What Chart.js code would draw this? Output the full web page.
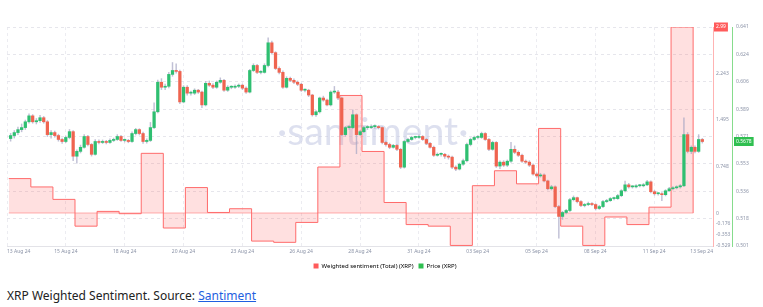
<!DOCTYPE html>
<html>
<head>
<meta charset="utf-8">
<script src="https://cdn.jsdelivr.net/npm/chart.js@4.4.1/dist/chart.umd.min.js"></script>
<style>
  html, body { margin: 0; padding: 0; background: #fff; }
  body { width: 763px; height: 307px; overflow: hidden; position: relative; font-family: "Noto Sans", sans-serif; }
  #wrap { position: absolute; left: 0; top: 0; width: 763px; height: 279px; }
  #caption { position: absolute; left: 7px; top: 287px; font-size: 12px; color: #222; white-space: nowrap; }
  #caption a { color: #1f5fe0; }
</style>
</head>
<body>
<div id="wrap"><canvas id="chart"></canvas></div>
<div id="caption">XRP Weighted Sentiment. Source: <a href="#">Santiment</a></div>
<script>
// x axis: days since 13 Aug 24 00:00
const xTickDays = [-0.08, 2.585, 5.25, 7.915, 10.58, 13.245, 15.91, 18.575, 21.24, 23.905, 26.57, 29.235, 31.9]
const xTickLabels = ['13 Aug 24', '15 Aug 24', '18 Aug 24', '20 Aug 24', '23 Aug 24', '26 Aug 24', '28 Aug 24',
  '31 Aug 24', '03 Sep 24', '05 Sep 24', '08 Sep 24', '11 Sep 24', '13 Sep 24']

// daily weighted sentiment, 13 Aug .. 12 Sep
const sentiment = [0.554, 0.42, 0.22, -0.21, 0.027, -0.01, 0.96, -0.24, 0.41, 0.01, 0.07, -0.45, -0.47, -0.15,
  0.74, 1.89, 0.99, 0.17, -0.185, -0.21, -0.52, 0.44, 0.68, 0.47, 1.36, -0.21, -0.52, -0.063, -0.185, 0.095, 2.99]
const sentimentTicks = [-0.529, -0.353, -0.176, 0, 0.748, 1.495, 2.243, 2.99]

// XRP 4h candles (open = previous close)
const priceTicks = [0.501, 0.5185, 0.536, 0.5535, 0.571, 0.5885, 0.606, 0.6235, 0.641]
const firstOpen = 0.5697
const closes = [
  0.5716, 0.5735, 0.5754, 0.5767, 0.5804, 0.5842,
  0.5804, 0.5811, 0.5830, 0.5804, 0.5722, 0.5735,
  0.5716, 0.5691, 0.5678, 0.5704, 0.5741, 0.5584,
  0.5615, 0.5641, 0.5710, 0.5659, 0.5596, 0.5678,
  0.5672, 0.5678, 0.5672, 0.5685, 0.5691, 0.5710,
  0.5685, 0.5685, 0.5678, 0.5729, 0.5754, 0.5729,
  0.5678, 0.5685, 0.5767, 0.5868, 0.6057, 0.6025,
  0.6031, 0.6107, 0.6132, 0.6126, 0.5931, 0.6025,
  0.5987, 0.5987, 0.6006, 0.5994, 0.5912, 0.6050,
  0.6038, 0.6025, 0.6057, 0.6069, 0.6006, 0.6025,
  0.6025, 0.6031, 0.6038, 0.6019, 0.5994, 0.6132,
  0.6164, 0.6120, 0.6120, 0.6164, 0.6309, 0.6246,
  0.6145, 0.6120, 0.6025, 0.6082, 0.6069, 0.6057,
  0.6044, 0.6006, 0.6006, 0.5975, 0.5849, 0.5868,
  0.5956, 0.5943, 0.5912, 0.5994, 0.5994, 0.5956,
  0.5722, 0.5767, 0.5767, 0.5849, 0.5722, 0.5741,
  0.5767, 0.5767, 0.5773, 0.5773, 0.5767, 0.5672,
  0.5659, 0.5641, 0.5653, 0.5628, 0.5514, 0.5678,
  0.5691, 0.5704, 0.5704, 0.5710, 0.5691, 0.5666,
  0.5641, 0.5590, 0.5596, 0.5596, 0.5584, 0.5578,
  0.5514, 0.5502, 0.5533, 0.5555, 0.5659, 0.5691,
  0.5704, 0.5704, 0.5729, 0.5691, 0.5628, 0.5672,
  0.5521, 0.5546, 0.5527, 0.5552, 0.5628, 0.5609,
  0.5590, 0.5552, 0.5546, 0.5527, 0.5470, 0.5458,
  0.5464, 0.5426, 0.5376, 0.5388, 0.5262, 0.5199,
  0.5224, 0.5237, 0.5306, 0.5319, 0.5294, 0.5269,
  0.5275, 0.5281, 0.5275, 0.5250, 0.5262, 0.5294,
  0.5300, 0.5313, 0.5313, 0.5332, 0.5363, 0.5401,
  0.5388, 0.5388, 0.5395, 0.5395, 0.5401, 0.5420,
  0.5357, 0.5344, 0.5344, 0.5338, 0.5363, 0.5376,
  0.5382, 0.5388, 0.5395, 0.5722, 0.5615, 0.5641,
  0.5615, 0.5691, 0.5678
]
const highs = [
  0.5730, 0.5748, 0.5770, 0.5790, 0.5815, 0.5855,
  0.5850, 0.5825, 0.5845, 0.5838, 0.5812, 0.5748,
  0.5745, 0.5725, 0.5700, 0.5712, 0.5755, 0.5748,
  0.5625, 0.5655, 0.5722, 0.5718, 0.5665, 0.5690,
  0.5688, 0.5688, 0.5685, 0.5695, 0.5700, 0.5722,
  0.5718, 0.5695, 0.5692, 0.5740, 0.5762, 0.5760,
  0.5738, 0.5695, 0.5800, 0.5925, 0.6070, 0.6080,
  0.6045, 0.6120, 0.6183, 0.6175, 0.6135, 0.6035,
  0.6035, 0.6000, 0.6015, 0.6012, 0.6000, 0.6062,
  0.6065, 0.6048, 0.6065, 0.6085, 0.6075, 0.6035,
  0.6035, 0.6040, 0.6046, 0.6045, 0.6028, 0.6140,
  0.6175, 0.6172, 0.6132, 0.6175, 0.6340, 0.6320,
  0.6252, 0.6155, 0.6130, 0.6092, 0.6090, 0.6078,
  0.6065, 0.6050, 0.6015, 0.6012, 0.5980, 0.5875,
  0.5962, 0.5968, 0.5950, 0.6002, 0.6030, 0.6005,
  0.5962, 0.5775, 0.5780, 0.5880, 0.5855, 0.5750,
  0.5775, 0.5780, 0.5785, 0.5785, 0.5780, 0.5772,
  0.5680, 0.5668, 0.5660, 0.5660, 0.5635, 0.5685,
  0.5698, 0.5712, 0.5712, 0.5720, 0.5716, 0.5697,
  0.5672, 0.5648, 0.5605, 0.5606, 0.5602, 0.5592,
  0.5585, 0.5522, 0.5540, 0.5565, 0.5668, 0.5700,
  0.5712, 0.5716, 0.5738, 0.5735, 0.5698, 0.5680,
  0.5678, 0.5555, 0.5555, 0.5560, 0.5672, 0.5650,
  0.5618, 0.5598, 0.5560, 0.5555, 0.5535, 0.5478,
  0.5475, 0.5472, 0.5432, 0.5398, 0.5395, 0.5270,
  0.5232, 0.5245, 0.5315, 0.5330, 0.5322, 0.5300,
  0.5282, 0.5290, 0.5288, 0.5280, 0.5270, 0.5302,
  0.5308, 0.5320, 0.5322, 0.5340, 0.5370, 0.5425,
  0.5410, 0.5396, 0.5402, 0.5405, 0.5410, 0.5430,
  0.5426, 0.5365, 0.5352, 0.5352, 0.5370, 0.5385,
  0.5390, 0.5395, 0.5402, 0.5830, 0.5735, 0.5650,
  0.5650, 0.5722, 0.5698
]
const lows = [
  0.5680, 0.5700, 0.5722, 0.5740, 0.5755, 0.5795,
  0.5795, 0.5790, 0.5800, 0.5795, 0.5710, 0.5700,
  0.5705, 0.5680, 0.5665, 0.5670, 0.5695, 0.5555,
  0.5540, 0.5605, 0.5635, 0.5650, 0.5585, 0.5590,
  0.5662, 0.5665, 0.5662, 0.5665, 0.5678, 0.5685,
  0.5678, 0.5675, 0.5670, 0.5672, 0.5720, 0.5720,
  0.5665, 0.5668, 0.5678, 0.5760, 0.5860, 0.6010,
  0.6010, 0.6020, 0.6095, 0.6115, 0.5920, 0.5925,
  0.5975, 0.5975, 0.5978, 0.5985, 0.5895, 0.5905,
  0.6030, 0.6015, 0.6018, 0.6050, 0.5998, 0.5998,
  0.6015, 0.6018, 0.6022, 0.6010, 0.5985, 0.5988,
  0.6125, 0.6112, 0.6110, 0.6115, 0.6155, 0.6240,
  0.6138, 0.6110, 0.6018, 0.6020, 0.6060, 0.6048,
  0.6035, 0.5998, 0.5995, 0.5965, 0.5840, 0.5838,
  0.5860, 0.5935, 0.5905, 0.5905, 0.5985, 0.5945,
  0.5715, 0.5712, 0.5755, 0.5760, 0.5600, 0.5715,
  0.5735, 0.5755, 0.5760, 0.5762, 0.5758, 0.5662,
  0.5648, 0.5632, 0.5635, 0.5620, 0.5505, 0.5508,
  0.5670, 0.5685, 0.5695, 0.5698, 0.5685, 0.5658,
  0.5635, 0.5582, 0.5584, 0.5585, 0.5570, 0.5565,
  0.5505, 0.5492, 0.5496, 0.5525, 0.5548, 0.5650,
  0.5685, 0.5695, 0.5698, 0.5685, 0.5620, 0.5622,
  0.5512, 0.5505, 0.5518, 0.5518, 0.5545, 0.5600,
  0.5582, 0.5545, 0.5538, 0.5518, 0.5462, 0.5448,
  0.5450, 0.5420, 0.5368, 0.5368, 0.5255, 0.5060,
  0.5180, 0.5215, 0.5230, 0.5298, 0.5285, 0.5262,
  0.5260, 0.5268, 0.5268, 0.5240, 0.5244, 0.5255,
  0.5288, 0.5295, 0.5305, 0.5308, 0.5325, 0.5355,
  0.5380, 0.5380, 0.5382, 0.5388, 0.5388, 0.5395,
  0.5350, 0.5335, 0.5335, 0.5300, 0.5330, 0.5360,
  0.5368, 0.5375, 0.5380, 0.5390, 0.5605, 0.5600,
  0.5605, 0.5608, 0.5668
]

const legendNames = ['Weighted sentiment (Total) (XRP)', 'Price (XRP)']
const legendColors = ['#ff5b5b', '#2fbf50']

const UP = '#2fbf71', DOWN = '#ef6450', TICK = '#8b93a7'
const candleX = k => k / 6 + 1 / 12
const opens = closes.map((c, k) => k === 0 ? firstOpen : closes[k - 1])
const lastClose = closes[closes.length - 1]

const watermark = {
  id: 'watermark',
  beforeDatasetsDraw(chart) {
    const {ctx, chartArea: a} = chart
    ctx.save()
    ctx.font = '400 40px Lato'
    const size = 40 * 171 / ctx.measureText('santiment').width
    ctx.font = `400 ${size}px Lato`
    ctx.fillStyle = 'rgba(198, 204, 228, 0.6)'
    ctx.textAlign = 'center'
    ctx.textBaseline = 'alphabetic'
    ctx.fillText('·santiment·', a.left + a.width * 0.518, a.top + a.height * 0.54)
    ctx.restore()
  }
}

const ctx = document.getElementById('chart')
new Chart(ctx, {
  type: 'bar',
  data: {
    datasets: [
      {
        type: 'line',
        label: legendNames[0],
        yAxisID: 'ySent',
        data: sentiment.map((v, i) => ({x: i, y: v})).concat([{x: sentiment.length, y: 0}]),
        stepped: true,
        borderColor: '#ff6b6b',
        borderWidth: 1,
        backgroundColor: 'rgba(255, 99, 99, 0.2)',
        fill: 'origin',
        pointRadius: 0,
        order: 3
      },
      {
        type: 'line',
        yAxisID: 'ySent',
        data: [{x: 0, y: 0}, {x: sentiment.length, y: 0}],
        borderColor: 'rgba(255, 107, 107, 0.35)',
        borderWidth: 1.5,
        pointRadius: 0,
        fill: false,
        order: 4
      },
      {
        yAxisID: 'yPrice',
        data: closes.map((c, k) => ({x: candleX(k), y: [lows[k], highs[k]]})),
        backgroundColor: 'rgba(165, 165, 195, 0.7)',
        barThickness: 0.8,
        grouped: false,
        order: 2
      },
      {
        label: legendNames[1],
        yAxisID: 'yPrice',
        data: closes.map((c, k) => ({x: candleX(k), y: [opens[k], c]})),
        backgroundColor: closes.map((c, k) => c >= opens[k] ? UP : DOWN),
        barThickness: 2.6,
        minBarLength: 1,
        grouped: false,
        order: 1
      }
    ]
  },
  options: {
    responsive: true,
    maintainAspectRatio: false,
    animation: false,
    devicePixelRatio: 1,
    layout: {padding: {left: 7, top: 27, right: 0, bottom: 0}},
    plugins: {
      tooltip: {enabled: false},
      legend: {
        position: 'bottom',
        labels: {
          boxWidth: 5,
          boxHeight: 5,
          padding: 5,
          color: '#555',
          font: {size: 6, family: 'Noto Sans'},
          generateLabels: () => legendNames.map((t, i) => ({
            text: t, fillStyle: legendColors[i], strokeStyle: legendColors[i], lineWidth: 0, hidden: false, datasetIndex: i
          }))
        }
      }
    },
    scales: {
      x: {
        type: 'linear',
        offset: false,
        min: xTickDays[0],
        max: xTickDays[xTickDays.length - 1],
        afterBuildTicks: s => { s.ticks = xTickDays.map(v => ({value: v})) },
        grid: {color: '#ececf1', drawTicks: false, offset: false},
        border: {color: '#e3e3e8', dash: [3, 3]},
        ticks: {
          autoSkip: false, maxRotation: 0, align: 'inner', padding: 3,
          font: {size: 5, family: 'Noto Sans'}, color: TICK,
          callback: (v, i) => xTickLabels[i]
        }
      },
      ySent: {
        position: 'right',
        weight: 0,
        min: sentimentTicks[0],
        max: sentimentTicks[sentimentTicks.length - 1],
        afterBuildTicks: s => { s.ticks = sentimentTicks.map(v => ({value: v})) },
        afterFit: s => { s.width = 19 },
        grid: {display: false, drawTicks: false},
        border: {color: '#ffb3b3'},
        ticks: {
          autoSkip: false, padding: 3,
          font: {size: 5, family: 'Noto Sans'},
          color: c => c.index === sentimentTicks.length - 1 ? '#fff' : TICK,
          showLabelBackdrop: c => c.index === sentimentTicks.length - 1,
          backdropColor: '#ff5b5b',
          backdropPadding: {x: 2, y: 1.5},
          callback: v => String(v)
        }
      },
      yPrice: {
        position: 'right',
        weight: 1,
        min: priceTicks[0],
        max: priceTicks[priceTicks.length - 1],
        afterBuildTicks: s => { s.ticks = priceTicks.map(v => ({value: v})).concat([{value: lastClose}]) },
        afterFit: s => { s.width = 31 },
        grid: {
          color: c => c.index === priceTicks.length ? 'rgba(0,0,0,0)' : '#e6e6ec',
          drawTicks: false
        },
        border: {color: '#86dc8c', dash: [3, 3]},
        ticks: {
          autoSkip: false, padding: 4,
          font: {size: 5, family: 'Noto Sans'},
          color: c => c.index === priceTicks.length ? '#fff' : TICK,
          showLabelBackdrop: c => c.index === priceTicks.length,
          backdropColor: '#2fbf50',
          backdropPadding: {x: 2, y: 1.5},
          callback: (v, i) => i === priceTicks.length ? lastClose.toFixed(4) : v.toFixed(3)
        }
      }
    }
  },
  plugins: [watermark]
})
</script>
</body>
</html>
